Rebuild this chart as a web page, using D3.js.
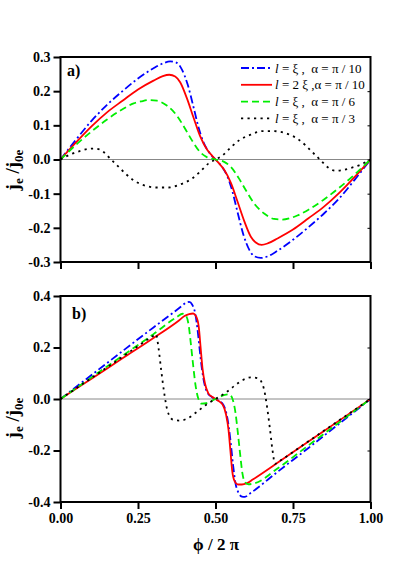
<!DOCTYPE html>
<html><head><meta charset="utf-8">
<script src="https://cdn.jsdelivr.net/npm/d3@7"></script>
<style>
html,body{margin:0;padding:0;background:#fff;}
svg{display:block;}
text{white-space:pre;}
</style></head>
<body>
<script>
// ---------------- DATA ----------------
const xTicks = [0, 0.25, 0.5, 0.75, 1.0];
const xTickLabels = ["0.00", "0.25", "0.50", "0.75", "1.00"];
const yTicksA = [-0.3, -0.2, -0.1, 0.0, 0.1, 0.2, 0.3];
const yTicksB = [-0.4, -0.2, 0.0, 0.2, 0.4];

const seriesNames = ["l = ξ ,  α = π / 10", "l = 2 ξ ,α = π / 10", "l = ξ ,  α = π / 6", "l = ξ ,  α = π / 3"];

// Panel a) l=xi, alpha=pi/10 (blue)
const aBlueX = [0,0.05,0.1,0.15,0.2,0.25,0.3,0.33,0.354,0.375,0.39,0.41,0.43,0.445,0.46,0.48,0.5,0.52,0.54,0.555,0.57,0.59,0.61,0.625,0.646,0.67,0.7,0.75,0.8,0.85,0.9,0.95,1];
const aBlueY = [0,0.058,0.113,0.16,0.2,0.237,0.267,0.281,0.287,0.283,0.266,0.22,0.15,0.095,0.053,0.02,0,-0.02,-0.053,-0.095,-0.15,-0.22,-0.266,-0.283,-0.288,-0.283,-0.267,-0.235,-0.198,-0.158,-0.113,-0.058,0];
// Panel a) l=2xi, alpha=pi/10 (red)
const aRedX = [0,0.05,0.1,0.15,0.2,0.25,0.3,0.33,0.351,0.37,0.386,0.407,0.429,0.45,0.472,0.49,0.5,0.51,0.528,0.55,0.571,0.593,0.614,0.63,0.649,0.67,0.7,0.75,0.8,0.85,0.9,0.95,1];
const aRedY = [0,0.05,0.097,0.138,0.172,0.205,0.231,0.244,0.248,0.243,0.226,0.181,0.123,0.069,0.03,0.01,0,-0.01,-0.03,-0.069,-0.123,-0.181,-0.226,-0.243,-0.25,-0.245,-0.231,-0.205,-0.172,-0.138,-0.097,-0.05,0];
// Panel a) l=xi, alpha=pi/6 (green)
const aGreenX = [0,0.05,0.1,0.15,0.2,0.236,0.26,0.284,0.311,0.343,0.375,0.402,0.424,0.45,0.472,0.5,0.528,0.55,0.576,0.598,0.625,0.657,0.689,0.716,0.74,0.764,0.8,0.85,0.9,0.95,1];
const aGreenY = [0,0.043,0.082,0.117,0.147,0.164,0.17,0.174,0.172,0.158,0.129,0.09,0.056,0.022,0.007,0,-0.007,-0.022,-0.056,-0.09,-0.129,-0.158,-0.174,-0.176,-0.172,-0.164,-0.147,-0.117,-0.082,-0.043,0];
// Panel a) l=xi, alpha=pi/3 (black)
const aBlackX = [0,0.032,0.064,0.09,0.113,0.139,0.161,0.188,0.209,0.236,0.268,0.311,0.348,0.386,0.424,0.45,0.477,0.5,0.523,0.55,0.576,0.614,0.652,0.689,0.732,0.764,0.791,0.812,0.839,0.861,0.887,0.91,0.936,0.968,1];
const aBlackY = [0,0.015,0.025,0.031,0.032,0.022,0.002,-0.022,-0.041,-0.061,-0.075,-0.082,-0.082,-0.073,-0.056,-0.036,-0.012,0,0.012,0.036,0.056,0.073,0.083,0.083,0.075,0.061,0.041,0.022,-0.002,-0.022,-0.033,-0.031,-0.025,-0.015,0];

// Panel b) l=xi, alpha=pi/10 (blue)
const bBlueX = [0,0.1,0.2,0.3,0.36,0.39,0.405,0.415,0.425,0.435,0.443,0.45,0.457,0.465,0.475,0.488,0.5,0.512,0.525,0.535,0.543,0.55,0.557,0.565,0.575,0.585,0.595,0.61,0.7,0.8,0.9,1];
const bBlueY = [0,0.093,0.186,0.278,0.332,0.36,0.374,0.377,0.366,0.33,0.26,0.18,0.11,0.055,0.022,0.008,0,-0.008,-0.022,-0.055,-0.11,-0.18,-0.26,-0.33,-0.366,-0.379,-0.38,-0.368,-0.283,-0.19,-0.095,0];
// Panel b) l=2xi, alpha=pi/10 (red)
const bRedX = [0,0.1,0.2,0.3,0.38,0.4,0.415,0.428,0.438,0.446,0.452,0.458,0.466,0.477,0.49,0.5,0.51,0.523,0.534,0.542,0.548,0.554,0.562,0.572,0.585,0.6,0.62,0.7,0.8,0.9,1];
const bRedY = [0,0.079,0.158,0.237,0.303,0.322,0.33,0.332,0.32,0.28,0.2,0.12,0.06,0.022,0.008,0,-0.008,-0.022,-0.06,-0.12,-0.2,-0.28,-0.32,-0.332,-0.332,-0.328,-0.313,-0.248,-0.165,-0.083,0];
// Panel b) l=xi, alpha=pi/6 (green)
const bGreenX = [0,0.1,0.2,0.3,0.375,0.394,0.405,0.413,0.42,0.428,0.436,0.445,0.455,0.47,0.5,0.53,0.545,0.555,0.564,0.572,0.58,0.587,0.595,0.606,0.625,0.7,0.8,0.9,1];
const bGreenY = [0,0.084,0.168,0.252,0.318,0.331,0.323,0.29,0.22,0.13,0.05,0.0,-0.018,-0.016,0,0.016,0.018,0.0,-0.05,-0.13,-0.22,-0.29,-0.323,-0.331,-0.328,-0.27,-0.18,-0.09,0];
// Panel b) l=xi, alpha=pi/3 (black)
const bBlackX = [0,0.1,0.2,0.3,0.308,0.316,0.325,0.335,0.345,0.362,0.385,0.41,0.44,0.47,0.5,0.53,0.56,0.59,0.615,0.638,0.655,0.665,0.675,0.684,0.692,0.7,0.8,0.9,1];
const bBlackY = [0,0.082,0.164,0.246,0.252,0.2,0.11,0.02,-0.045,-0.08,-0.084,-0.075,-0.05,-0.022,0,0.022,0.05,0.075,0.084,0.08,0.045,-0.02,-0.11,-0.2,-0.252,-0.246,-0.164,-0.082,0];

// ---------------- DRAWING ----------------
const W = 415, H = 587;
const svg = d3.select("body").append("svg").attr("width", W).attr("height", H);

const x = d3.scaleLinear().domain([0, 1]).range([60.5, 370.5]);
const ya = d3.scaleLinear().domain([-0.3, 0.3]).range([262, 57]);
const yb = d3.scaleLinear().domain([-0.4, 0.4]).range([502, 296]);

const colors = ["#0000ff", "#ff0000", "#00ee00", "#000000"];
const dashes = ["8,3,2,3", null, "7,4", "2.2,4.3"];
const serif = "'Liberation Serif','Times New Roman',serif";

function zip(xs, ys) { return xs.map((v, i) => [v, ys[i]]); }

function panel(y, yTicks, data, label, showXLabels) {
  const g = svg.append("g");
  g.append("line").attr("x1", x(0)).attr("x2", x(1)).attr("y1", y(0)).attr("y2", y(0))
    .attr("stroke", "#888").attr("stroke-width", 1);

  const line = d3.line().x(d => x(d[0])).y(d => y(d[1])).curve(d3.curveMonotoneX);
  data.forEach((pts, i) => {
    g.append("path").attr("d", line(pts)).attr("fill", "none")
      .attr("stroke", colors[i]).attr("stroke-width", 1.8)
      .attr("stroke-dasharray", dashes[i]);
  });

  g.append("rect").attr("x", x(0)).attr("y", y.range()[1])
    .attr("width", x(1) - x(0)).attr("height", y.range()[0] - y.range()[1])
    .attr("fill", "none").attr("stroke", "#000").attr("stroke-width", 2);

  const ly = g.append("g").attr("transform", `translate(${x(0)},0)`)
    .call(d3.axisLeft(y).tickValues(yTicks).tickSize(7).tickPadding(3).tickFormat(d => d.toFixed(1)));
  ly.select(".domain").remove();
  ly.selectAll(".tick line").attr("stroke-width", 2);
  ly.selectAll("text").attr("font-family", serif).attr("font-weight", "bold").attr("font-size", 14).attr("fill", "#000");

  const ry = g.append("g").attr("transform", `translate(${x(1)},0)`)
    .call(d3.axisLeft(y).tickValues(yTicks).tickSize(3).tickFormat(""));
  ry.select(".domain").remove();
  ry.selectAll(".tick line").attr("stroke-width", 1);

  const bx = g.append("g").attr("transform", `translate(0,${y.range()[0]})`)
    .call(d3.axisBottom(x).tickValues(xTicks).tickSize(7).tickPadding(4)
      .tickFormat((d, i) => showXLabels ? xTickLabels[i] : ""));
  bx.select(".domain").remove();
  bx.selectAll(".tick line").attr("stroke-width", 2);
  bx.selectAll("text").attr("font-family", serif).attr("font-weight", "bold").attr("font-size", 14).attr("fill", "#000");

  g.append("text").attr("x", label.x).attr("y", label.y).text(label.t)
    .attr("font-family", serif).attr("font-weight", "bold").attr("font-size", 16);
  return g;
}

panel(ya, yTicksA, [zip(aBlueX, aBlueY), zip(aRedX, aRedY), zip(aGreenX, aGreenY), zip(aBlackX, aBlackY)],
  {x: 67, y: 76, t: "a)"}, false);
panel(yb, yTicksB, [zip(bBlueX, bBlueY), zip(bRedX, bRedY), zip(bGreenX, bGreenY), zip(bBlackX, bBlackY)],
  {x: 72, y: 319, t: "b)"}, true);

// legend (panel a)
const leg = svg.append("g");
seriesNames.forEach((name, i) => {
  const cy = 68 + i * 16.8;
  leg.append("line").attr("x1", 241).attr("x2", 272).attr("y1", cy).attr("y2", cy)
    .attr("stroke", colors[i]).attr("stroke-width", 1.8).attr("stroke-dasharray", dashes[i]);
  const t = leg.append("text").attr("x", 275).attr("y", cy + 4.5)
    .attr("font-family", serif).attr("font-size", 13).attr("fill", "#000");
  t.append("tspan").attr("font-style", "italic").text(name.slice(0, 1));
  t.append("tspan").text(name.slice(1));
});

// y-axis titles
function yTitle(cy) {
  const t = svg.append("text").attr("transform", `translate(19,${cy}) rotate(-90)`)
    .attr("text-anchor", "middle").attr("font-family", serif).attr("font-weight", "bold")
    .attr("font-size", 19).attr("fill", "#000");
  t.append("tspan").text("j");
  t.append("tspan").attr("font-size", 13).attr("dy", 4).text("e");
  t.append("tspan").attr("dy", -4).text(" /j");
  t.append("tspan").attr("font-size", 13).attr("dy", 4).text("0e");
}
yTitle(170);
yTitle(418);

// x-axis title
svg.append("text").attr("x", 216).attr("y", 550).attr("text-anchor", "middle")
  .attr("font-family", serif).attr("font-weight", "bold").attr("font-size", 17)
  .text("ϕ / 2 π");
</script>
</body></html>
